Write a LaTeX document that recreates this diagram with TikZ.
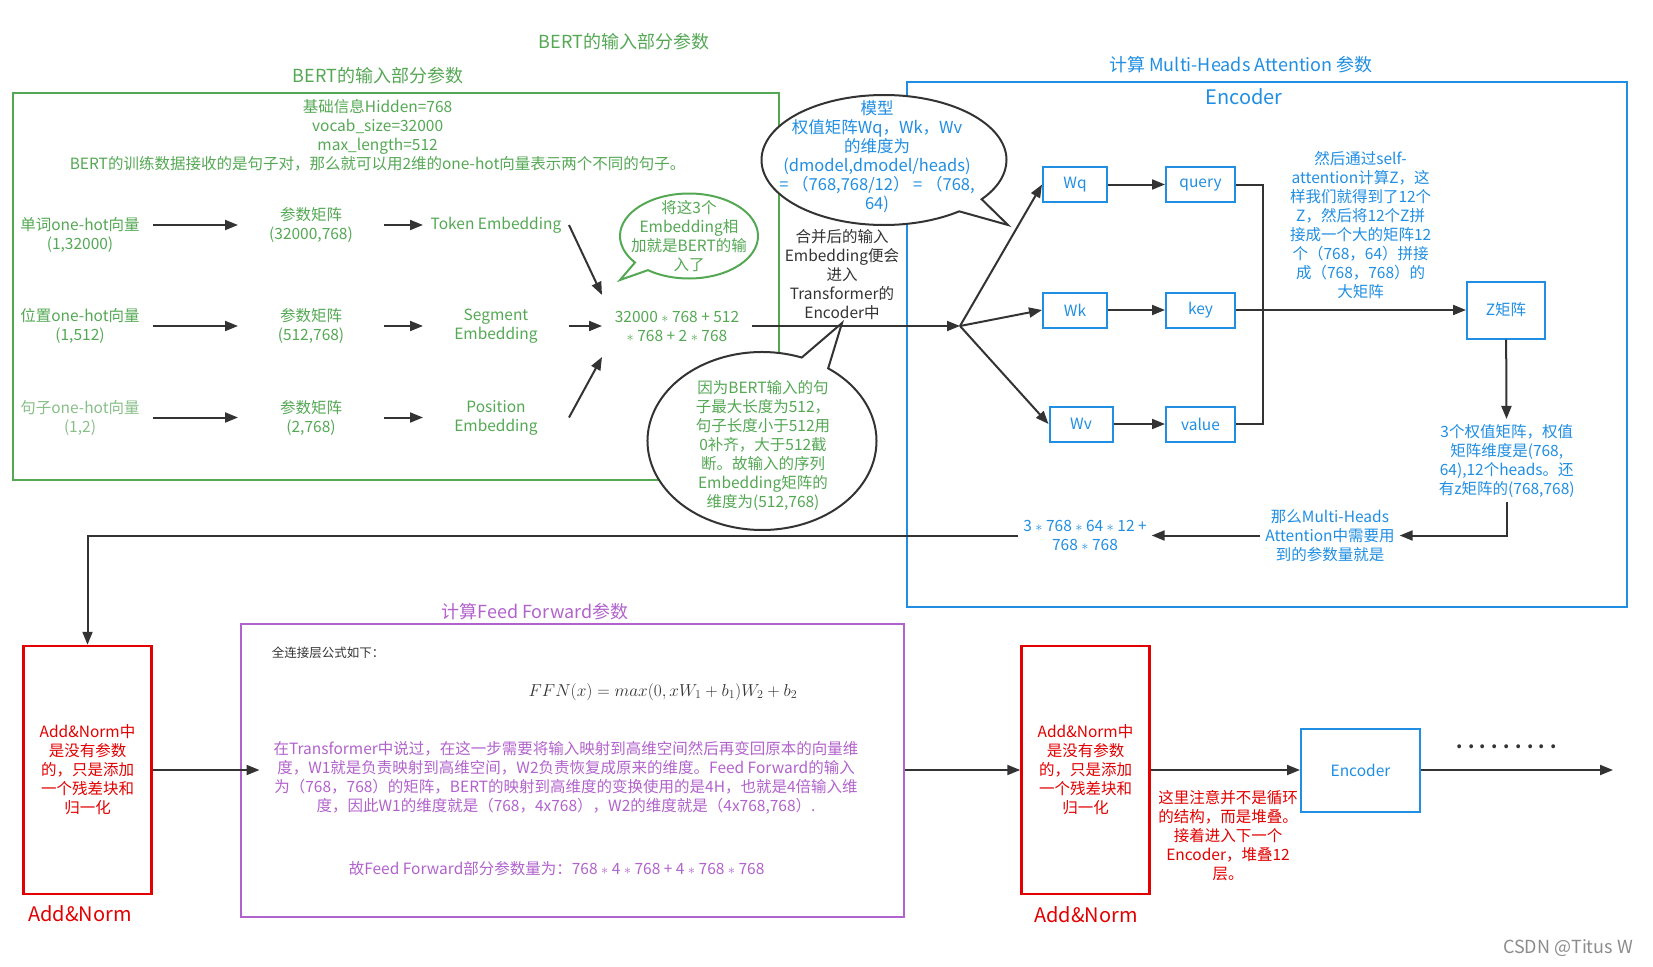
\documentclass[tikz,border=0pt]{standalone}
\usepackage{fontspec}
\setmainfont{Noto Sans CJK SC}
\usetikzlibrary{positioning,arrows.meta,shapes.callouts}

\definecolor{bertGreen}{RGB}{84,168,84}
\definecolor{paleGreen}{RGB}{136,190,136}
\definecolor{encBlue}{RGB}{32,142,226}
\definecolor{normRed}{RGB}{226,0,0}
\definecolor{ffnPurple}{RGB}{178,98,204}
\definecolor{lineGray}{RGB}{51,51,51}

\newcommand{\txtsize}{\fontsize{15.5}{19}\selectfont}
\newcommand{\bigcapsize}{\fontsize{18}{22}\selectfont}

\tikzstyle{txt} = [align=center, inner sep=4pt, font=\txtsize]
\tikzstyle{colTxt} = [txt, text=bertGreen, minimum width=144pt]
\tikzstyle{frameBox} = [rectangle, draw, line width=2pt, inner sep=0pt]
\tikzstyle{qkvBox} = [rectangle, draw=encBlue, line width=2pt, text=encBlue, minimum height=35pt, txt]
\tikzstyle{normBox} = [rectangle, draw=normRed, line width=2.5pt, text=normRed, minimum width=128pt, minimum height=248pt, txt]
\tikzstyle{noteBubble} = [ellipse callout, fill=white, line width=2pt, inner sep=0pt]
\tikzstyle{capTitle} = [font=\bigcapsize]

\begin{document}
\begin{tikzpicture}[x=1pt, y=-1pt, node distance=100pt, color=lineGray, line width=2pt, >={Triangle[length=13pt,width=10pt]}]
\useasboundingbox (0,0) rectangle (1653,966);

% frames and titles
\node[frameBox, draw=bertGreen, minimum width=766pt, minimum height=387pt] (inputFrame) at (396,286.7) {};
\node[frameBox, draw=encBlue, minimum width=720pt, minimum height=525pt] (encFrame) at (1267,344.2) {};
\node[frameBox, draw=ffnPurple, minimum width=663pt, minimum height=293pt] (ffnFrame) at (572,770) {};

\node[capTitle, text=bertGreen] (pageTitle) at (624,41.7) {BERT的输入部分参数};
\node[capTitle, text=bertGreen] (inputTitle) at (378,76) {BERT的输入部分参数};
\node[capTitle, text=encBlue] (encTitle) at (1241,65) {计算 Multi-Heads Attention 参数};
\node[font=\fontsize{20}{24}\selectfont, text=encBlue] (encLabel) at (1244,96.7) {Encoder};
\node[capTitle, text=ffnPurple] (ffnTitle) at (535,611.7) {计算Feed Forward参数};

% input part
\node[txt, text=bertGreen] (baseInfo) at (377.6,135.6) {基础信息Hidden=768\\vocab\_size=32000\\max\_length=512\\BERT的训练数据接收的是句子对，那么就可以用2维的one-hot向量表示两个不同的句子。};

\node[colTxt] (wordVec) at (80,235) {单词one-hot向量\\(1,32000)};
\node[colTxt] (wordMat) [right of=wordVec, xshift=131pt, yshift=10pt] {参数矩阵\\(32000,768)};
\node[colTxt] (tokenEmb) [right of=wordMat, xshift=85pt] {Token Embedding};

\node[colTxt] (posVec) [below of=wordVec, yshift=9pt] {位置one-hot向量\\(1,512)};
\node[colTxt] (posMat) [right of=posVec, xshift=131pt] {参数矩阵\\(512,768)};
\node[colTxt] (segEmb) [right of=posMat, xshift=85pt] {Segment\\Embedding};

\node[colTxt, text=paleGreen] (sentVec) [below of=posVec, yshift=8.5pt] {句子one-hot向量\\(1,2)};
\node[colTxt] (sentMat) [right of=sentVec, xshift=131pt] {参数矩阵\\(2,768)};
\node[colTxt] (positionEmb) [right of=sentMat, xshift=85pt] {Position\\Embedding};

\node[txt, text=bertGreen, minimum width=148pt, minimum height=60pt] (embSum) [right of=segEmb, xshift=81pt] {32000 $*$ 768 + 512\\$*$ 768 + 2 $*$ 768};

% bubbles
\node[noteBubble, draw=bertGreen, minimum width=138pt, minimum height=85pt, callout absolute pointer={(620,280)}] (sumBubble) at (689,236) {};
\node[txt, text=bertGreen] (sumBubbleText) at (sumBubble) {将这3个\\Embedding相\\加就是BERT的输\\入了};

\node[noteBubble, draw=lineGray, minimum width=245pt, minimum height=130pt, callout absolute pointer={(1008,225)}] (weightBubble) at (884,160) {};
\node[txt, text=encBlue, font=\fontsize{16.5}{19}\selectfont] (weightBubbleText) at (877,156.5) {模型\\权值矩阵Wq，Wk，Wv\\的维度为\\(dmodel,dmodel/heads)\\= （768,768/12） = （768,\\64)};

\node[noteBubble, draw=lineGray, minimum width=229pt, minimum height=178pt, callout absolute pointer={(842,323)}] (lenBubble) at (762,441) {};
\node[txt, text=bertGreen] (lenBubbleText) at (763,445.5) {因为BERT输入的句\\子最大长度为512，\\句子长度小于512用\\0补齐，大于512截\\断。故输入的序列\\Embedding矩阵的\\维度为(512,768)};

\node[txt, text=lineGray] (mergeNote) at (842,275) {合并后的输入\\Embedding便会\\进入\\Transformer的\\Encoder中};

% multi-heads attention
\coordinate (branch) at (960,326);
\node[qkvBox, minimum width=64pt] (wq) at (1075,184.5) {Wq};
\node[qkvBox, minimum width=69pt] (query) [right of=wq, xshift=25.5pt] {query};
\node[qkvBox, minimum width=64pt] (wk) at (1075,310) {Wk};
\node[qkvBox, minimum width=69pt] (key) [right of=wk, xshift=25.5pt] {key};
\node[qkvBox, minimum width=63pt] (wv) at (1081,424) {Wv};
\node[qkvBox, minimum width=69pt] (value) at (1200.5,424) {value};
\node[qkvBox, minimum width=78pt, minimum height=57pt] (zMat) at (1506,310) {Z矩阵};

\node[txt, text=encBlue] (selfAttNote) at (1360.6,225) {然后通过self-\\attention计算Z，这\\样我们就得到了12个\\Z，然后将12个Z拼\\接成一个大的矩阵12\\个（768，64）拼接\\成（768，768）的\\大矩阵};
\node[txt, text=encBlue] (headsNote) at (1506.7,460.5) {3个权值矩阵，权值\\矩阵维度是(768,\\64),12个heads。还\\有z矩阵的(768,768)};
\node[txt, text=encBlue] (mhaNote) at (1330,535.5) {那么Multi-Heads\\Attention中需要用\\到的参数量就是};
\node[txt, text=encBlue] (mhaSum) at (1085,535.5) {3 $*$ 768 $*$ 64 $*$ 12 +\\768 $*$ 768};

% feed forward and add&norm
\node[normBox] (addNorm1) at (87.5,770) {Add\&Norm中\\是没有参数\\的，只是添加\\一个残差块和\\归一化};
\node[font=\fontsize{20}{24}\selectfont, text=normRed] (addNorm1Label) at (80,913.3) {Add\&Norm};
\node[normBox] (addNorm2) at (1085.5,770) {Add\&Norm中\\是没有参数\\的，只是添加\\一个残差块和\\归一化};
\node[font=\fontsize{20}{24}\selectfont, text=normRed] (addNorm2Label) at (1086,914.3) {Add\&Norm};

\node[anchor=west, font=\fontsize{12.5}{15}\selectfont, text=lineGray] (fcLabel) at (267.5,652.7) {全连接层公式如下：};
\node[font=\fontsize{17}{20}\selectfont, text=lineGray] (ffnFormula) at (663,691.7) {$FFN(x) = max(0, xW_1 + b_1)W_2 + b_2$};
\node[txt, text=ffnPurple] (ffnPara) at (566,778) {在Transformer中说过，在这一步需要将输入映射到高维空间然后再变回原本的向量维\\度，W1就是负责映射到高维空间，W2负责恢复成原来的维度。Feed Forward的输入\\为（768，768）的矩阵，BERT的映射到高维度的变换使用的是4H，也就是4倍输入维\\度，因此W1的维度就是（768，4x768），W2的维度就是（4x768,768）.};
\node[txt, text=ffnPurple] (ffnSum) at (556.6,868.3) {故Feed Forward部分参数量为：768 $*$ 4 $*$ 768 + 4 $*$ 768 $*$ 768};

\node[qkvBox, minimum width=119pt, minimum height=83pt] (nextEnc) at (1360.5,770) {Encoder};
\node[txt, text=normRed] (stackNote) at (1228,836) {这里注意并不是循环\\的结构，而是堆叠。\\接着进入下一个\\Encoder，堆叠12\\层。};
\node[font=\fontsize{18}{18}\selectfont\bfseries] (moreDots) at (1506.6,747) {. . . . . . . . .};
\coordinate (stackEnd) at (1613,770);

\node[font=\fontsize{18}{20}\selectfont, text=black!45] (mark) at (1568,948) {CSDN @Titus W};

% connectors
\draw[->] (wordVec.east |- wordMat) -- (wordMat);
\draw[->] (wordMat) -- (tokenEmb);
\draw[->] (posVec) -- (posMat);
\draw[->] (posMat) -- (segEmb);
\draw[->] (sentVec) -- (sentMat);
\draw[->] (sentMat) -- (positionEmb);
\draw[->] (tokenEmb.east) -- (embSum.north west);
\draw[->] (segEmb) -- (embSum);
\draw[->] (positionEmb.east) -- (embSum.south west);
\draw[->] (embSum) -- (branch);
\draw[->] (branch) -- (wq.west);
\draw[->] (branch) -- (wk.west);
\draw[->] (branch) -- (wv.west);
\draw[->] (wq) -- (query);
\draw[->] (wk) -- (key);
\draw[->] (wv) -- (value);
\draw (query.east) -- ++(26.5,0) |- (value.east);
\draw[->] (key) -- (zMat);
\draw[->] (zMat) -- (headsNote);
\draw[->] (headsNote.south) |- (mhaNote.east);
\draw[->] (mhaNote) -- (mhaSum);
\draw[->] (mhaSum) -| (addNorm1);
\draw[->] (addNorm1) -- ([xshift=20pt]ffnFrame.west);
\draw[->] (ffnFrame) -- (addNorm2);
\draw[->] (addNorm2) -- (nextEnc);
\draw[->] (nextEnc) -- (stackEnd);

\end{tikzpicture}
\end{document}
